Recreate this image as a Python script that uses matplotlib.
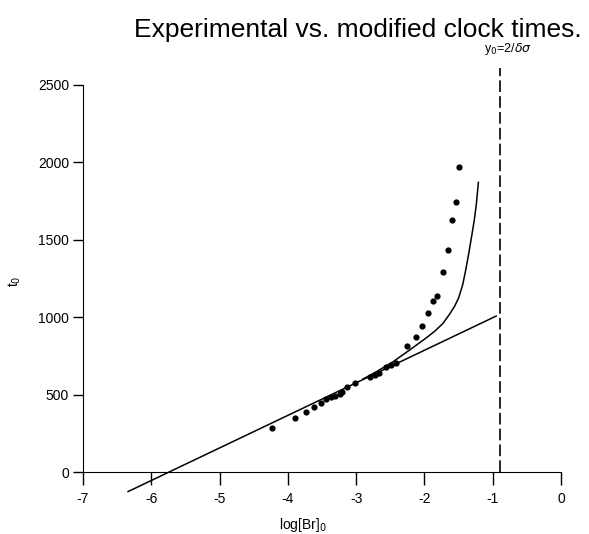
import numpy as np
import matplotlib
matplotlib.use('Agg')
import matplotlib.pyplot as plt

plt.rcParams['font.family'] = ['Liberation Sans', 'DejaVu Sans']
plt.rcParams['axes.unicode_minus'] = False

# experimental points
exp_x = [-4.23, -3.90, -3.74, -3.61, -3.52, -3.44, -3.37, -3.31, -3.24, -3.21,
         -3.13, -3.01, -2.80, -2.73, -2.66, -2.56, -2.49, -2.42,
         -2.25, -2.13, -2.03, -1.95, -1.88, -1.81, -1.73, -1.65, -1.60, -1.54, -1.50]
exp_t = [286, 347, 390, 422, 448, 470, 483, 495, 508, 517,
         547, 573, 616, 627, 641, 676, 693, 706,
         818, 870, 945, 1029, 1103, 1139, 1292, 1434, 1628, 1744, 1970]

# straight line (ends)
lin_x = [-6.34, -0.95]
lin_t = [-125, 1008]

# modified clock time curve
mod_x = [-2.90, -2.70, -2.46, -2.22, -1.98, -1.85, -1.73, -1.64, -1.56, -1.50,
         -1.44, -1.40, -1.36, -1.31, -1.27, -1.24, -1.21]
mod_t = [601, 650, 713, 788, 865, 910, 960, 1015, 1070, 1125,
         1210, 1295, 1390, 1520, 1628, 1730, 1871]

y0 = -0.9

fig = plt.figure(figsize=(5.89, 5.34), dpi=100)
ax = fig.add_axes([0.1409, 0.0693, 0.8116, 0.8064])

ax.plot(lin_x, lin_t, color='black', lw=1.1)
ax.plot(mod_x, mod_t, color='black', lw=1.1)
ax.scatter(exp_x, exp_t, s=12, color='black', zorder=3)
ax.plot([y0, y0], [0, 2610], color='black', lw=1.2, ls=(0, (7, 2.5)))
ax.text(y0 + 0.12, 2680, 'y$_0$=2/$\\delta\\sigma$', fontsize=9, ha='center', va='bottom')

ax.set_xlim(-7, 0)
ax.set_ylim(-160, 2620)
ax.spines['top'].set_visible(False)
ax.spines['right'].set_visible(False)
ax.spines['bottom'].set_position(('data', 0))
ax.spines['left'].set_bounds(0, 2500)
ax.set_xticks(range(-7, 1))
ax.set_yticks(range(0, 2501, 500))
ax.tick_params(axis='x', direction='out', length=9, pad=5, labelsize=10, width=1)
ax.tick_params(axis='y', direction='out', length=7, pad=3, labelsize=10, width=1)
ax.set_xlabel('log[Br]$_0$', fontsize=10)
ax.xaxis.set_label_coords(0.46, -0.045)
ax.set_ylabel('t$_0$', fontsize=10)
ax.yaxis.set_label_coords(-0.125, 0.5)

fig.text(0.608, 0.944, 'Experimental vs. modified clock times.', fontsize=19,
         ha='center', va='center')

plt.savefig('out.png', dpi=100)
